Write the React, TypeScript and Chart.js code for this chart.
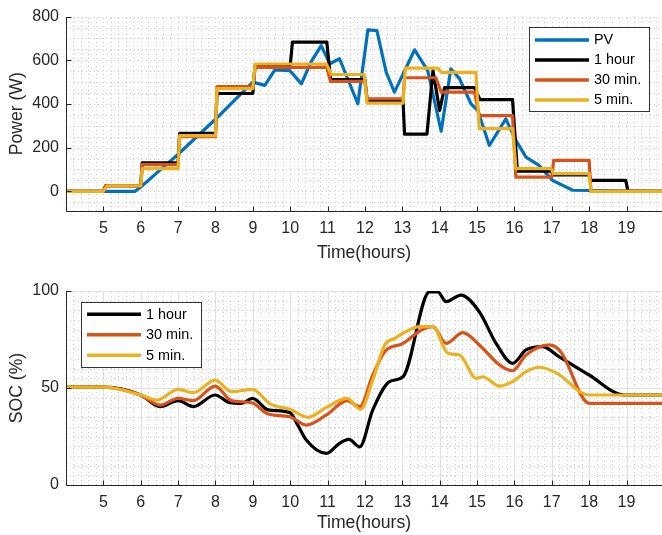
import React, { useEffect, useRef } from "react";
import { Chart, registerables } from "chart.js";

Chart.register(...registerables);

const FONT = "'Liberation Sans', Arial, Helvetica, sans-serif";
const AXIS = "#262626";

// ---------- tick labels ----------
const xTickHours = [5, 6, 7, 8, 9, 10, 11, 12, 13, 14, 15, 16, 17, 18, 19];
const powerTicks = [0, 200, 400, 600, 800];
const socTicks = [0, 50, 100];

// ---------- top panel: power (W) ----------
const pvHours = [4, 5.85, 6.0, 6.5, 7.0, 7.5, 8.0, 8.5, 9.0, 9.32, 9.59, 9.99, 10.3, 10.55, 10.83, 11.06, 11.32, 11.81, 12.08, 12.32, 12.57, 12.79, 13.33, 13.68, 14.04, 14.3, 14.53, 14.84, 15.02, 15.33, 15.77, 16.04, 16.31, 16.66, 17.02, 17.56, 20];
const pvWatts = [0, 0, 20, 95, 170, 250, 330, 415, 500, 485, 556, 553, 492, 590, 667, 584, 607, 401, 739, 736, 545, 454, 648, 553, 275, 561, 516, 400, 370, 210, 332, 233, 157, 119, 50, 5, 0];

const hour1Hours = [4, 5.0, 5.06, 6.0, 6.04, 7.0, 7.04, 8.0, 8.04, 9.0, 9.06, 10.0, 10.06, 10.98, 11.08, 12.0, 12.06, 13.02, 13.06, 13.66, 13.82, 14.0, 14.13, 14.93, 15.08, 15.95, 16.08, 16.98, 17.05, 18.0, 18.05, 18.98, 19.04, 20];
const hour1Watts = [0, 0, 25, 25, 130, 130, 265, 265, 448, 448, 575, 575, 683, 683, 512, 512, 414, 414, 262, 262, 553, 370, 475, 475, 420, 420, 93, 93, 75, 75, 50, 50, 0, 0];

const min30Hours = [4, 5.0, 5.06, 6.0, 6.04, 7.0, 7.04, 8.0, 8.04, 9.0, 9.06, 10.98, 11.08, 12.0, 12.06, 13.02, 13.06, 13.9, 14.04, 14.93, 15.06, 15.95, 16.04, 17.0, 17.05, 18.0, 18.05, 20];
const min30Watts = [0, 0, 25, 25, 122, 122, 250, 250, 480, 480, 568, 568, 503, 503, 424, 424, 520, 520, 454, 454, 347, 347, 65, 65, 142, 142, 0, 0];

const min5Hours = [4, 5.0, 5.1, 6.0, 6.04, 7.0, 7.04, 8.0, 8.04, 9.0, 9.06, 10.97, 11.1, 11.98, 12.06, 13.02, 13.08, 13.95, 14.05, 14.97, 15.06, 15.95, 16.04, 16.98, 17.05, 18.0, 18.05, 20];
const min5Watts = [0, 0, 25, 25, 104, 104, 255, 255, 470, 470, 583, 583, 535, 535, 404, 404, 564, 564, 545, 545, 287, 287, 104, 104, 81, 81, 0, 0];

// ---------- bottom panel: SOC (%) ----------
const soc1hHours = [4, 5.0, 6.0, 6.52, 7.0, 7.41, 7.99, 8.39, 8.7, 8.99, 9.41, 9.99, 10.2, 10.43, 10.97, 11.32, 11.57, 11.86, 12.21, 12.66, 13.02, 13.73, 13.95, 14.17, 14.57, 15.06, 15.51, 15.95, 16.31, 16.75, 17.2, 18.0, 18.94, 20];
const soc1hValues = [50.4, 50.4, 46.4, 40.4, 43.5, 40.4, 46.4, 42.4, 42.1, 44.7, 38.7, 37.3, 31, 23.2, 16.3, 21.5, 23.5, 19.7, 38.7, 53.3, 55.8, 99.6, 99.6, 94.5, 97.9, 89.3, 73, 62.7, 69.6, 71.3, 66.1, 56.7, 46.4, 46.4];

const soc30Hours = [4, 5.0, 6.0, 6.52, 7.0, 7.41, 7.99, 8.43, 8.97, 9.41, 9.99, 10.43, 10.97, 11.52, 11.86, 12.21, 12.53, 13.02, 13.55, 13.82, 14.17, 14.62, 15.06, 15.6, 15.95, 16.31, 16.93, 17.24, 18.0, 20];
const soc30Values = [50.4, 50.4, 46.4, 41.2, 44.7, 43.5, 51, 43.5, 42.4, 36.6, 35.2, 30.9, 36.1, 43.5, 40.4, 56.7, 68.7, 73, 80.3, 81.6, 73, 78.5, 72.2, 61.9, 58.9, 67, 72.2, 68.7, 42.1, 42.1];

const soc5Hours = [4, 5.0, 6.0, 6.43, 7.0, 7.41, 7.99, 8.43, 8.99, 9.46, 9.99, 10.48, 10.97, 11.52, 11.88, 12.21, 12.53, 12.8, 13.02, 13.46, 13.82, 14.22, 14.53, 14.98, 15.15, 15.6, 15.95, 16.31, 16.66, 17.11, 18.0, 20];
const soc5Values = [50.4, 50.4, 46.4, 43.8, 49.3, 47.6, 54.1, 48.1, 49.3, 41.8, 39, 34.9, 40, 44.7, 39, 54.1, 72.2, 75.6, 78.2, 81.6, 81.6, 67.9, 67, 55, 55.8, 51, 53.3, 58.4, 60.7, 57.9, 46.4, 46.4];

const BLUE = "#0072BD";
const BLACK = "#000000";
const ORANGE = "#D95319";
const YELLOW = "#EDB120";

const pts = (xs: number[], ys: number[]) => xs.map((x, i) => ({ x, y: ys[i] }));

type LegendCfg = {
  left: number; top: number; width: number; height: number;
  firstY: number; rowH: number; lineX0: number; lineX1: number; textX: number;
};

type PanelCfg = {
  height: number;
  padTop: number;
  xAxisH: number;
  xTitlePad: number;
  yMin: number; yMax: number;
  yTicks: number[];
  yTitle: string;
  minorY: number;
  majorGrid: boolean;
  legend: LegendCfg;
};

function makePlugin(cfg: PanelCfg) {
  return {
    id: "matlabLook",
    beforeDatasetsDraw(chart: any) {
      const { ctx, chartArea: ca, scales } = chart;
      const xs = scales.x, ys = scales.y;
      ctx.save();
      ctx.beginPath();
      ctx.rect(ca.left, ca.top, ca.right - ca.left, ca.bottom - ca.top);
      ctx.clip();
      // minor dotted grid
      ctx.strokeStyle = "rgba(38,38,38,0.22)";
      ctx.lineWidth = 1;
      ctx.setLineDash([1, 3]);
      ctx.beginPath();
      const mx = 0.2;
      for (let k = Math.ceil(xs.min / mx - 1e-9); k * mx <= xs.max + 1e-9; k++) {
        const px = Math.round(xs.getPixelForValue(k * mx)) + 0.5;
        ctx.moveTo(px, ca.bottom);
        ctx.lineTo(px, ca.top);
      }
      for (let k = Math.ceil(ys.min / cfg.minorY - 1e-9); k * cfg.minorY <= ys.max + 1e-9; k++) {
        const py = Math.round(ys.getPixelForValue(k * cfg.minorY)) + 0.5;
        ctx.moveTo(ca.left, py);
        ctx.lineTo(ca.right, py);
      }
      ctx.stroke();
      if (cfg.majorGrid) {
        ctx.setLineDash([]);
        ctx.strokeStyle = "#dfdfdf";
        ctx.beginPath();
        xTickHours.forEach((h) => {
          const px = Math.round(xs.getPixelForValue(h)) + 0.5;
          ctx.moveTo(px, ca.bottom);
          ctx.lineTo(px, ca.top);
        });
        cfg.yTicks.forEach((v) => {
          const py = Math.round(ys.getPixelForValue(v)) + 0.5;
          ctx.moveTo(ca.left, py);
          ctx.lineTo(ca.right, py);
        });
        ctx.stroke();
      }
      ctx.restore();
    },
    afterDatasetsDraw(chart: any) {
      const { ctx, chartArea: ca, scales } = chart;
      const xs = scales.x, ys = scales.y;
      ctx.save();
      ctx.strokeStyle = AXIS;
      ctx.lineWidth = 1;
      const L = Math.round(ca.left) + 0.5;
      const B = Math.round(ca.bottom) + 0.5;
      ctx.beginPath();
      ctx.moveTo(L, Math.round(ca.top));
      ctx.lineTo(L, B);
      ctx.lineTo(ca.right, B);
      xTickHours.forEach((h) => {
        const px = Math.round(xs.getPixelForValue(h)) + 0.5;
        ctx.moveTo(px, B);
        ctx.lineTo(px, B - 5);
      });
      cfg.yTicks.forEach((v) => {
        const py = Math.round(ys.getPixelForValue(v)) + 0.5;
        ctx.moveTo(L, py);
        ctx.lineTo(L + 5, py);
      });
      ctx.stroke();
      ctx.restore();
    },
    afterDraw(chart: any) {
      const { ctx } = chart;
      const g = cfg.legend;
      ctx.save();
      ctx.fillStyle = "#ffffff";
      ctx.fillRect(g.left, g.top, g.width, g.height);
      ctx.strokeStyle = "#333333";
      ctx.lineWidth = 1;
      ctx.strokeRect(g.left + 0.5, g.top + 0.5, g.width, g.height);
      chart.data.datasets.forEach((ds: any, i: number) => {
        const y = g.firstY + i * g.rowH;
        ctx.strokeStyle = ds.borderColor;
        ctx.lineWidth = 3.5;
        ctx.beginPath();
        ctx.moveTo(g.lineX0, y);
        ctx.lineTo(g.lineX1, y);
        ctx.stroke();
        ctx.fillStyle = "#000000";
        ctx.font = `14.4px ${FONT}`;
        ctx.textBaseline = "middle";
        ctx.textAlign = "left";
        ctx.fillText(ds.label, g.textX, y + 0.5);
      });
      ctx.restore();
    },
  };
}

function buildOptions(cfg: PanelCfg, smooth: boolean): any {
  return {
    responsive: false,
    animation: false,
    devicePixelRatio: 1,
    layout: { padding: { top: cfg.padTop, left: 0, right: 0, bottom: 0 } },
    plugins: { legend: { display: false }, tooltip: { enabled: false } },
    elements: {
      point: { radius: 0 },
      line: {
        borderWidth: 3.2,
        borderJoinStyle: "round",
        borderCapStyle: "round",
        tension: 0,
        cubicInterpolationMode: smooth ? "monotone" : "default",
      },
    },
    scales: {
      x: {
        type: "linear",
        min: 4,
        max: 19.95,
        grid: { display: false, drawTicks: false },
        border: { display: false },
        afterBuildTicks: (s: any) => {
          s.ticks = xTickHours.map((v) => ({ value: v }));
        },
        afterFit: (s: any) => {
          s.height = cfg.xAxisH;
        },
        ticks: {
          padding: 8.4,
          color: AXIS,
          autoSkip: false,
          maxRotation: 0,
          font: { size: 16, family: FONT },
        },
        title: {
          display: true,
          text: "Time(hours)",
          color: AXIS,
          font: { size: 17.6, family: FONT },
          padding: { top: 0, bottom: cfg.xTitlePad },
        },
      },
      y: {
        type: "linear",
        min: cfg.yMin,
        max: cfg.yMax,
        grid: { display: false, drawTicks: false },
        border: { display: false },
        afterBuildTicks: (s: any) => {
          s.ticks = cfg.yTicks.map((v) => ({ value: v }));
        },
        afterFit: (s: any) => {
          s.width = 66;
        },
        ticks: {
          padding: 7,
          color: AXIS,
          font: { size: 16, family: FONT },
        },
        title: {
          display: true,
          text: cfg.yTitle,
          color: AXIS,
          font: { size: 17.6, family: FONT },
          padding: { top: 6.5, bottom: 0 },
        },
      },
    },
  };
}

function Panel(props: { cfg: PanelCfg; datasets: any[]; smooth: boolean; top: number }) {
  const ref = useRef<HTMLCanvasElement | null>(null);
  useEffect(() => {
    if (!ref.current) return;
    const chart = new Chart(ref.current, {
      type: "line",
      data: { datasets: props.datasets },
      options: buildOptions(props.cfg, props.smooth),
      plugins: [makePlugin(props.cfg)],
    } as any);
    return () => chart.destroy();
  }, []);
  return (
    <canvas
      ref={ref}
      width={662}
      height={props.cfg.height}
      style={{ position: "absolute", left: 0, top: props.top, display: "block" }}
    />
  );
}

const topCfg: PanelCfg = {
  height: 268,
  padTop: 16.5,
  xAxisH: 57,
  xTitlePad: 4.4,
  yMin: -90,
  yMax: 800,
  yTicks: powerTicks,
  yTitle: "Power (W)",
  minorY: 50,
  majorGrid: false,
  legend: { left: 529, top: 27, width: 120, height: 84, firstY: 40, rowH: 20, lineX0: 535, lineX1: 589, textX: 594 },
};

const bottomCfg: PanelCfg = {
  height: 267,
  padTop: 23,
  xAxisH: 50,
  xTitlePad: 1.4,
  yMin: 0,
  yMax: 100,
  yTicks: socTicks,
  yTitle: "SOC (%)",
  minorY: 5,
  majorGrid: true,
  legend: { left: 81, top: 34, width: 120, height: 65, firstY: 46.3, rowH: 20.5, lineX0: 87, lineX1: 141, textX: 146 },
};

export default function App() {
  const topSets = [
    { label: "PV", data: pts(pvHours, pvWatts), borderColor: BLUE, backgroundColor: BLUE, order: 4, fill: false },
    { label: "1 hour", data: pts(hour1Hours, hour1Watts), borderColor: BLACK, backgroundColor: BLACK, order: 3, fill: false },
    { label: "30 min.", data: pts(min30Hours, min30Watts), borderColor: ORANGE, backgroundColor: ORANGE, order: 2, fill: false },
    { label: "5 min.", data: pts(min5Hours, min5Watts), borderColor: YELLOW, backgroundColor: YELLOW, order: 1, fill: false },
  ];
  const bottomSets = [
    { label: "1 hour", data: pts(soc1hHours, soc1hValues), borderColor: BLACK, backgroundColor: BLACK, order: 3, fill: false },
    { label: "30 min.", data: pts(soc30Hours, soc30Values), borderColor: ORANGE, backgroundColor: ORANGE, order: 2, fill: false },
    { label: "5 min.", data: pts(soc5Hours, soc5Values), borderColor: YELLOW, backgroundColor: YELLOW, order: 1, fill: false },
  ];
  return (
    <div
      style={{
        position: "absolute",
        left: 0,
        top: 0,
        width: 662,
        height: 535,
        overflow: "hidden",
        background: "#ffffff",
      }}
    >
      <Panel cfg={topCfg} datasets={topSets} smooth={false} top={0} />
      <Panel cfg={bottomCfg} datasets={bottomSets} smooth={true} top={268} />
    </div>
  );
}
